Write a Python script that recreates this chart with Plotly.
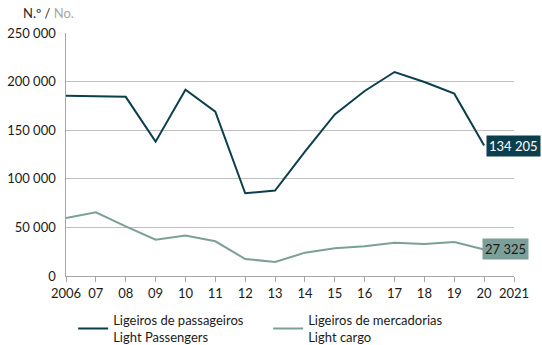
import plotly.graph_objects as go

years = list(range(2006, 2021))
tick_years = list(range(2006, 2022))
tick_labels = ["2006", "07", "08", "09", "10", "11", "12", "13", "14", "15",
               "16", "17", "18", "19", "20", "2021"]

passengers = [185500, 185200, 184300, 138200, 191600, 169000, 85100, 87900,
              128000, 166300, 190300, 209900, 199600, 187600, 134205]
cargo = [59700, 65500, 51000, 37400, 41700, 35700, 17500, 14400,
         24000, 28500, 30500, 34300, 33000, 35000, 27325]

dark = "#0c3f4e"
light = "#7d9f99"
font_family = "Lato, 'Open Sans', sans-serif"


def fmt(v):
    return f"{v:,}".replace(",", " ")


fig = go.Figure()
fig.add_trace(go.Scatter(
    x=years, y=passengers, mode="lines",
    line=dict(color=dark, width=2),
    name="Ligeiros de passageiros<br>Light Passengers",
))
fig.add_trace(go.Scatter(
    x=years, y=cargo, mode="lines",
    line=dict(color=light, width=2),
    name="Ligeiros de mercadorias<br>Light cargo",
))

# end-of-series value labels
fig.add_annotation(x=years[-1], y=passengers[-1], text=fmt(passengers[-1]),
                   xanchor="left", yanchor="middle", xshift=2, showarrow=False,
                   bgcolor=dark, font=dict(color="white", size=13, family=font_family),
                   borderpad=2)
fig.add_annotation(x=years[-1], y=cargo[-1], text=fmt(cargo[-1]),
                   xanchor="left", yanchor="middle", xshift=-2, showarrow=False,
                   bgcolor=light, font=dict(color="#1a1a1a", size=13, family=font_family),
                   borderpad=2)

# unit caption
fig.add_annotation(xref="paper", yref="paper", x=-0.1, y=1.0, yshift=20,
                   xanchor="left", yanchor="middle", showarrow=False,
                   text="N.º / <span style='color:#a6a6a6'>No.</span>",
                   font=dict(color="#262626", size=13, family=font_family))

fig.update_layout(
    width=542, height=345,
    margin=dict(l=66, r=28, t=33, b=69, autoexpand=False),
    paper_bgcolor="white", plot_bgcolor="white",
    separators=", ",
    font=dict(family=font_family, size=13, color="#1a1a1a"),
    showlegend=True,
    legend=dict(orientation="h", xref="container", x=0.135, y=-0.12,
                xanchor="left", yanchor="top",
                font=dict(size=13, color="#1a1a1a"), itemwidth=30,
                traceorder="normal", entrywidth=150, entrywidthmode="pixels"),
)
fig.update_xaxes(
    range=[2006, 2021], tickvals=tick_years, ticktext=tick_labels,
    showgrid=False, showline=True, linecolor="#a6a6a6", linewidth=1,
    ticks="outside", ticklen=5, tickcolor="#a6a6a6", zeroline=False,
)
fig.update_yaxes(
    range=[0, 250000], dtick=50000, tickformat=",d",
    showgrid=True, gridcolor="#bfbfbf", gridwidth=1,
    showline=True, linecolor="#a6a6a6", ticks="", zeroline=False,
    ticksuffix="  ",
)

fig.write_html("out.html")
